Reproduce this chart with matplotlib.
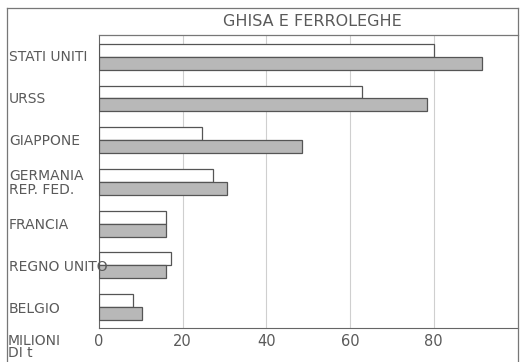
import matplotlib
matplotlib.use("Agg")
import matplotlib.pyplot as plt
from matplotlib.lines import Line2D

countries = ["STATI UNITI", "URSS", "GIAPPONE", "GERMANIA\nREP. FED.", "FRANCIA", "REGNO UNITO", "BELGIO"]
white_vals = [80, 63, 24.7, 27.3, 16, 17.2, 8.1]
gray_vals = [91.6, 78.5, 48.6, 30.6, 16, 16, 10.3]
xticks = [0, 20, 40, 60, 80]
title = "GHISA E FERROLEGHE"
unit_label = "MILIONI\nDI t"

W, H = 520, 362
fig = plt.figure(figsize=(W / 100, H / 100), dpi=100)
fig.patch.set_facecolor("white")
tc = "#5a5a5a"

ax = fig.add_axes([99 / W, (H - 328) / H, (518 - 99) / W, (328 - 35) / H])
ys = list(range(len(countries)))
bh = 0.31
ax.barh([y - bh / 2 for y in ys], white_vals, height=bh, color="white", edgecolor="#555555", linewidth=0.9, zorder=3)
ax.barh([y + bh / 2 for y in ys], gray_vals, height=bh, color="#b8b8b8", edgecolor="#555555", linewidth=0.9, zorder=3)
ax.set_xlim(0, 100.2)
ax.set_ylim(6.5, -0.52)
for x in xticks[1:]:
    ax.axvline(x, color="#cfcfcf", linewidth=0.8, zorder=1)
ax.set_xticks([])
ax.set_yticks([])
for s in ["top", "right"]:
    ax.spines[s].set_visible(False)
ax.spines["left"].set_color("#666666")
ax.spines["bottom"].set_color("#666666")

for x in xticks:
    ax.text(x, 6.5 + 14 / 41.9, str(x), ha="center", va="center", fontsize=10.5, color=tc)

for y, name in zip(ys, countries):
    fig.text(9 / W, 1 - (57 + 42 * y) / H, name,
             ha="left", va="center", fontsize=10, color=tc, linespacing=1.05)

fig.text(8 / W, 1 - 347 / H, unit_label, ha="left", va="center", fontsize=10, color=tc, linespacing=0.9)
fig.text(312 / W, 1 - 22 / H, title, ha="center", va="center", fontsize=11.5, color=tc)

lc = "#777777"
fig.add_artist(Line2D([7 / W, 518 / W], [1 - 8 / H, 1 - 8 / H], color=lc, linewidth=0.9))
fig.add_artist(Line2D([7 / W, 7 / W], [0, 1 - 8 / H], color=lc, linewidth=0.9))
fig.add_artist(Line2D([518 / W, 518 / W], [0, 1 - 8 / H], color=lc, linewidth=0.9))
fig.add_artist(Line2D([99 / W, 518 / W], [1 - 35 / H, 1 - 35 / H], color=lc, linewidth=0.9))

fig.savefig("out.png", dpi=100, facecolor="white")
